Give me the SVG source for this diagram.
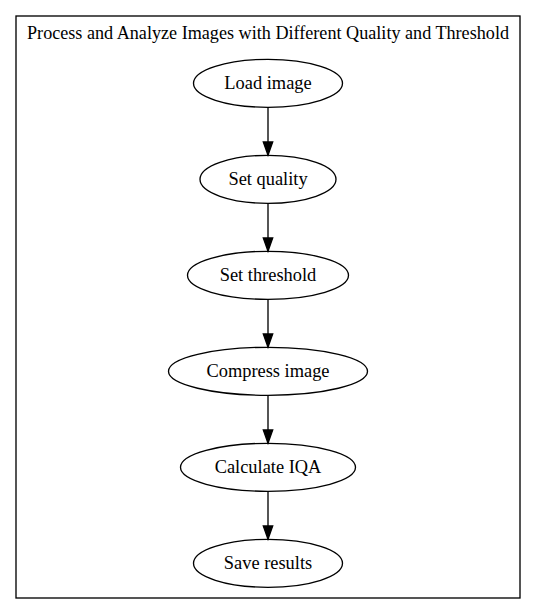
<svg xmlns="http://www.w3.org/2000/svg" width="536" height="614" viewBox="0 0 536 614">
<style>
  .node ellipse { fill: none; stroke: #000; stroke-width: 1.33; }
  .node text, .title { font-family: "Liberation Serif", "Times New Roman", serif; font-size: 18.4px; fill: #000; text-anchor: middle; }
  .title { font-size: 18.2px; }
  .edge line { stroke: #000; stroke-width: 1.33; }
  .edge path { fill: #000; stroke: #000; stroke-width: 1.33; }
</style>
<rect width="536" height="614" fill="#fff"/>
<g id="cluster">
  <rect x="16" y="16" width="504" height="582" fill="none" stroke="#000" stroke-width="1.33"/>
  <text class="title" x="268" y="38.5" textLength="482" lengthAdjust="spacingAndGlyphs">Process and Analyze Images with Different Quality and Threshold</text>
</g>
<g id="connectors" class="edge">
  <line x1="268" y1="107.3" x2="268" y2="142"/>
  <path d="M263.3,142 L272.7,142 L268,155.3 Z"/>
  <line x1="268" y1="203.3" x2="268" y2="238"/>
  <path d="M263.3,238 L272.7,238 L268,251.3 Z"/>
  <line x1="268" y1="299.3" x2="268" y2="334"/>
  <path d="M263.3,334 L272.7,334 L268,347.3 Z"/>
  <line x1="268" y1="395.3" x2="268" y2="430"/>
  <path d="M263.3,430 L272.7,430 L268,443.3 Z"/>
  <line x1="268" y1="491.3" x2="268" y2="526"/>
  <path d="M263.3,526 L272.7,526 L268,539.3 Z"/>
</g>
<g id="load_image" class="node">
  <ellipse cx="268" cy="83.3" rx="74.5" ry="24"/>
  <text x="268" y="88.9">Load image</text>
</g>
<g id="set_quality" class="node">
  <ellipse cx="268" cy="179.3" rx="68" ry="24"/>
  <text x="268" y="184.9">Set quality</text>
</g>
<g id="set_threshold" class="node">
  <ellipse cx="268" cy="275.3" rx="80.5" ry="24"/>
  <text x="268" y="280.9">Set threshold</text>
</g>
<g id="compress_image" class="node">
  <ellipse cx="268" cy="371.3" rx="99.5" ry="24"/>
  <text x="268" y="376.9">Compress image</text>
</g>
<g id="calculate_iqa" class="node">
  <ellipse cx="268" cy="467.3" rx="87.5" ry="24"/>
  <text x="268" y="472.9">Calculate IQA</text>
</g>
<g id="save_results" class="node">
  <ellipse cx="268" cy="563.3" rx="74.5" ry="24"/>
  <text x="268" y="568.9">Save results</text>
</g>
</svg>
